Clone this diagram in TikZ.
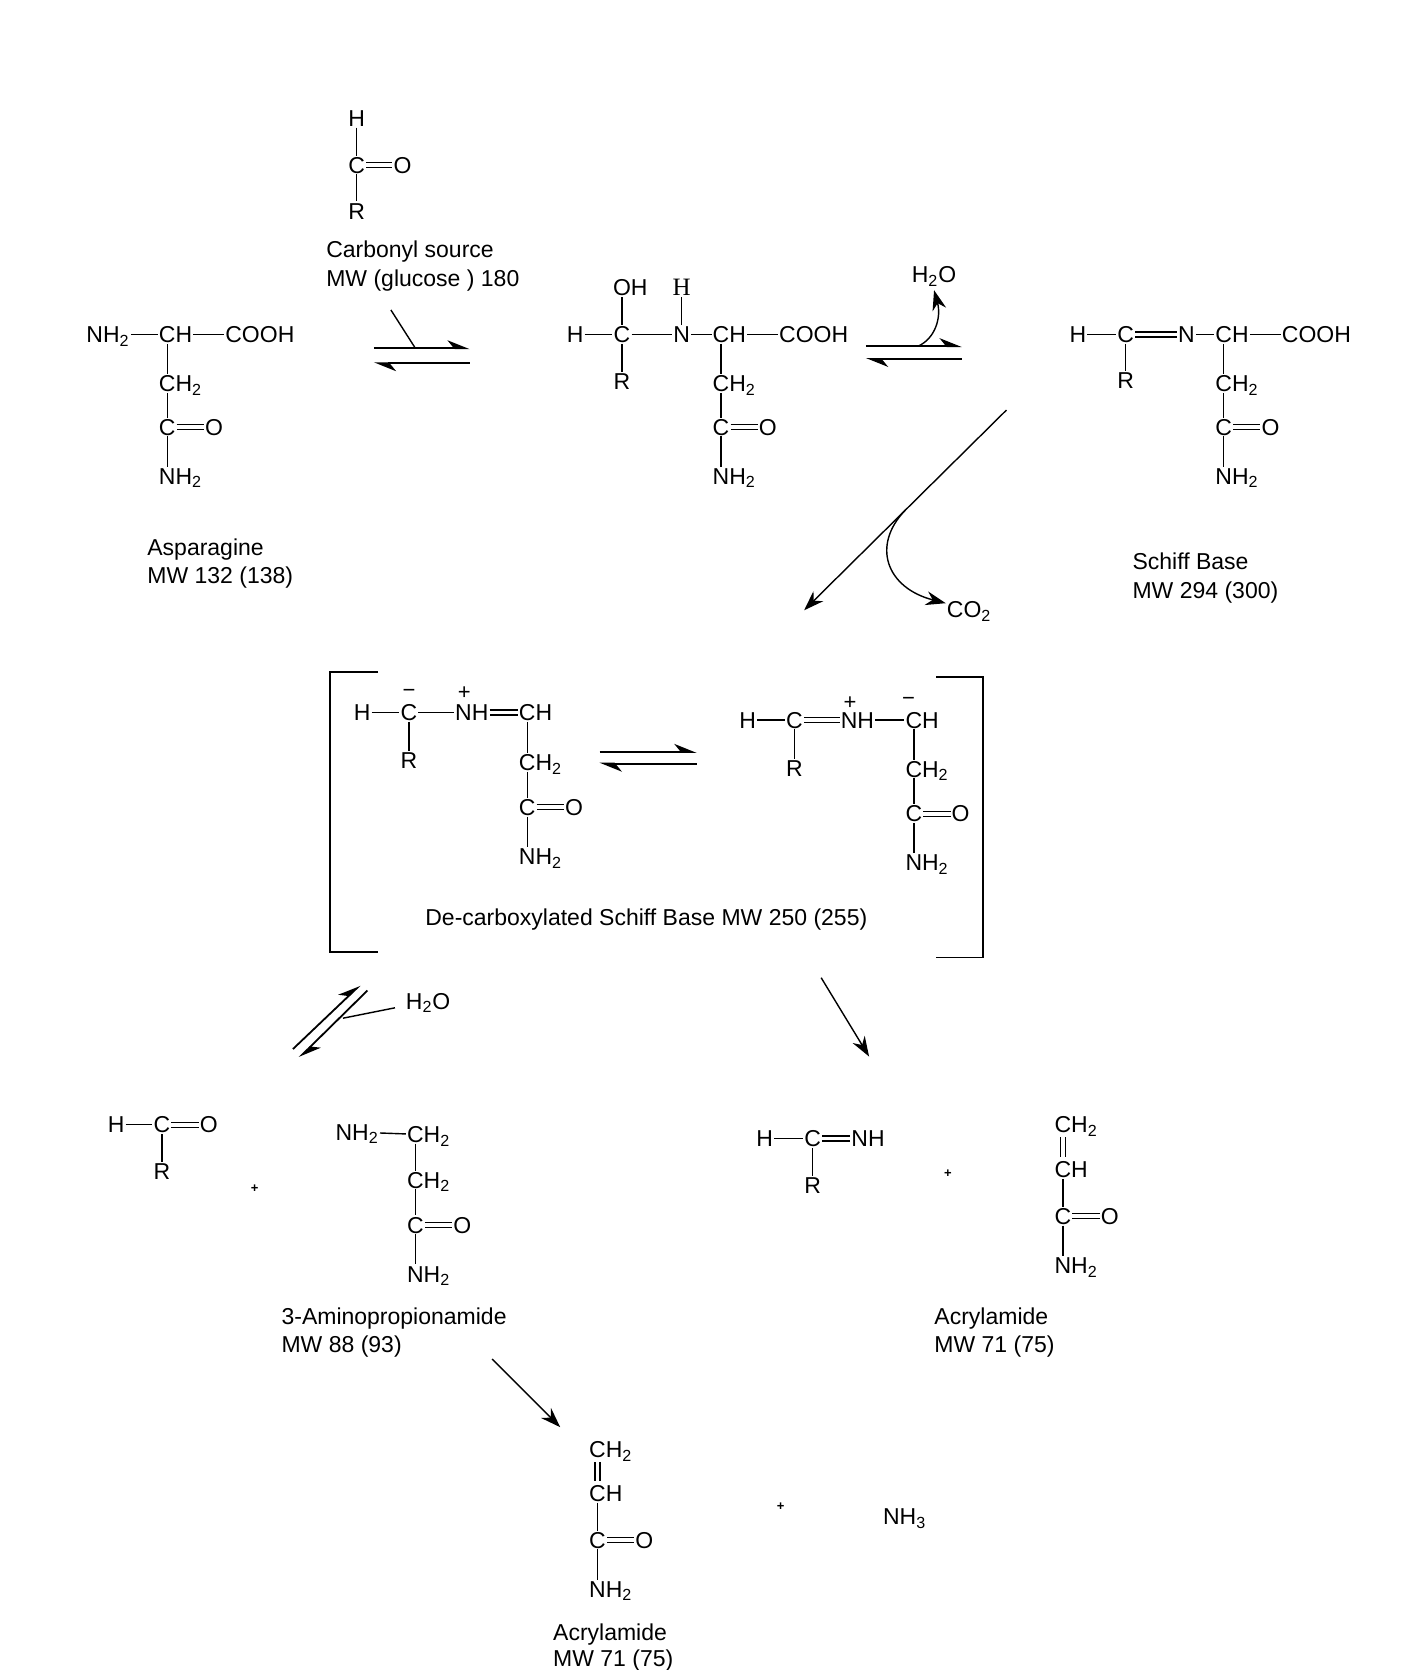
\documentclass[tikz,border=0pt]{standalone}
\usepackage{fontspec}
\setmainfont{Liberation Sans}
\newfontfamily\serifatom{Liberation Serif}
\usetikzlibrary{arrows.meta}
\tikzset{
  atom/.style={font=\fontsize{11.5}{13}\selectfont,text height=8.2pt,text depth=0pt,inner sep=0.4pt},
  caption/.style={font=\fontsize{11.5}{13}\selectfont,text height=8.2pt,text depth=0pt,inner sep=0pt,anchor=west},
  charge/.style={font=\fontsize{11}{12}\selectfont,inner sep=0pt},
  plus/.style={font=\fontsize{6.5}{7}\bfseries\selectfont,inner sep=0pt},
  bond/.style={line width=0.7pt},
  dbond/.style={line width=0.6pt,double,double distance=1.9pt},
  arrow/.style={line width=0.7pt,-{Stealth[length=10pt,width=7pt]}},
  half/.style={line width=0.9pt,-{Stealth[left,length=10pt,width=8pt]}}
}
% chain end C(=O)NH2 hanging below node #4
\newcommand{\amide}[4]{
  \node[atom] (#1c) at (#2,#3) {C};
  \node[atom] (#1o) at (#2+44,#3) {O};
  \node[atom] (#1n) at (#2,#3+46) {N\rlap{H\textsubscript{2}}};
  \draw[dbond] (#1c) -- (#1o);
  \draw[bond] (#1c) -- (#1n);
  \draw[bond] (#4) -- (#1c);
}
% forward and back half arrows
\newcommand{\equil}[5]{
  \coordinate (#1a) at (#2,#4);
  \coordinate (#1b) at (#3,#4);
  \coordinate (#1c) at (#3,#5);
  \coordinate (#1d) at (#2,#5);
  \draw[half] (#1a) -- (#1b);
  \draw[half] (#1c) -- (#1d);
}
\begin{document}
\begin{tikzpicture}[x=0.5325pt,y=-0.5325pt]
\useasboundingbox (0,0) rectangle (1315.4,1568);

% carbonyl source
\node[atom] (srch) at (335,111) {H};
\node[atom] (srcc) at (335,155) {C};
\node[atom] (srco) at (378,155) {O};
\node[atom] (srcr) at (335,198) {R};
\draw[bond] (srch) -- (srcc);
\draw[bond] (srcc) -- (srcr);
\draw[dbond] (srcc) -- (srco);
\node[caption] (srcname) at (306,234) {Carbonyl source};
\node[caption] (srcmw) at (306,261) {MW (glucose ) 180};

% asparagine
\node[atom,anchor=west] (asnh) at (80,314) {NH\textsubscript{2}};
\node[atom] (asch) at (157,314) {C\rlap{H}};
\node[atom] (ascooh) at (244,314) {COOH};
\node[atom] (asb) at (157,360) {C\rlap{H\textsubscript{2}}};
\draw[bond] (asnh) -- (asch);
\draw[bond] ([xshift=8.3pt]asch.east) -- (ascooh);
\draw[bond] (asch) -- (asb);
\amide{as}{157}{401}{asb}
\node[caption] (asname) at (138,514) {Asparagine};
\node[caption] (asmw) at (138,540) {MW 132 (138)};

\equil{ra}{351}{441}{327}{341}
\coordinate (rasrc) at (367,291);
\coordinate (rajoin) at (390,327);
\draw[bond] (rasrc) -- (rajoin);

% addition product
\node[atom] (adh) at (540,314) {H};
\node[atom] (adc) at (584,314) {C};
\node[atom] (adoh) at (584,270) {O\rlap{H}};
\node[atom] (adr) at (584,358) {R};
\node[atom] (adn) at (640,314) {N};
\node[atom,font=\fontsize{12.5}{14}\serifatom] (adnh) at (640,270) {H};
\node[atom] (adch) at (677,314) {C\rlap{H}};
\node[atom] (adcooh) at (764,314) {COOH};
\node[atom] (adb) at (677,360) {C\rlap{H\textsubscript{2}}};
\draw[bond] (adh) -- (adc);
\draw[bond] (adc) -- (adoh);
\draw[bond] (adc) -- (adr);
\draw[bond] (adc) -- (adn);
\draw[bond] (adn) -- (adnh);
\draw[bond] (adn) -- (adch);
\draw[bond] ([xshift=8.3pt]adch.east) -- (adcooh);
\draw[bond] (adch) -- (adb);
\amide{ad}{677}{401}{adb}

\equil{rb}{813}{903}{325}{337}
\node[atom] (rbwater) at (877,258) {H\textsubscript{2}O};
\coordinate (rbjoin) at (862,325);
\draw[arrow] (rbjoin) .. controls (878,318) and (884,298) .. ([yshift=-3pt]rbwater.south);

% schiff base
\node[atom] (sbh) at (1012,314) {H};
\node[atom] (sbc) at (1057,314) {C};
\node[atom] (sbr) at (1057,357) {R};
\node[atom] (sbn) at (1114,314) {N};
\node[atom] (sbch) at (1149,314) {C\rlap{H}};
\node[atom] (sbcooh) at (1236,314) {COOH};
\node[atom] (sbb) at (1149,360) {C\rlap{H\textsubscript{2}}};
\draw[bond] (sbh) -- (sbc);
\draw[bond] (sbc) -- (sbr);
\draw[dbond] (sbc) -- (sbn);
\draw[bond] (sbn) -- (sbch);
\draw[bond] ([xshift=8.3pt]sbch.east) -- (sbcooh);
\draw[bond] (sbch) -- (sbb);
\amide{sb}{1149}{401}{sbb}
\node[caption] (sbname) at (1063,527) {Schiff Base};
\node[caption] (sbmw) at (1063,554) {MW 294 (300)};

% decarboxylation
\coordinate (rcstart) at (945,385);
\coordinate (rcend) at (755,573);
\coordinate (rcjoin) at (850,479);
\draw[arrow] (rcstart) -- (rcend);
\node[atom,anchor=west] (rcco) at (888,572) {CO\textsubscript{2}};
\draw[arrow] (rcjoin) .. controls (818,512) and (832,552) .. (rcco);

% brackets
\coordinate (bla) at (355,631);
\coordinate (blb) at (310,631);
\coordinate (blc) at (310,894);
\coordinate (bld) at (355,894);
\coordinate (bra) at (879,636);
\coordinate (brb) at (923,636);
\coordinate (brc) at (923,899);
\coordinate (brd) at (879,899);
\draw[line width=0.9pt] (bla) -- (blb) -- (blc) -- (bld);
\draw[line width=0.9pt] (bra) -- (brb) -- (brc) -- (brd);

% de-carboxylated schiff base, left form
\node[atom] (dah) at (340,669) {H};
\node[atom] (dac) at (384,669) {C};
\node[atom] (dar) at (384,714) {R};
\node[atom] (danh) at (443,669) {NH};
\node[atom] (dach) at (495,669) {C\rlap{H}};
\node[atom] (dab) at (495,716) {C\rlap{H\textsubscript{2}}};
\node[charge] (daminus) at (384,651) {−};
\node[charge] (daplus) at (436,651) {+};
\draw[bond] (dah) -- (dac);
\draw[bond] (dac) -- (dar);
\draw[bond] (dac) -- (danh);
\draw[dbond] (danh) -- (dach);
\draw[bond] (dach) -- (dab);
\amide{da}{495}{758}{dab}

\equil{rd}{563}{654}{706}{717}

% de-carboxylated schiff base, right form
\node[atom] (dbh) at (702,676) {H};
\node[atom] (dbc) at (746,676) {C};
\node[atom] (dbr) at (746,721) {R};
\node[atom] (dbnh) at (805,676) {NH};
\node[atom] (dbch) at (858,676) {C\rlap{H}};
\node[atom] (dbb) at (858,722) {C\rlap{H\textsubscript{2}}};
\node[charge] (dbplus) at (798,660) {+};
\node[charge] (dbminus) at (853,659) {−};
\draw[bond] (dbh) -- (dbc);
\draw[bond] (dbc) -- (dbr);
\draw[dbond] (dbc) -- (dbnh);
\draw[bond] (dbnh) -- (dbch);
\draw[bond] (dbch) -- (dbb);
\amide{db}{858}{764}{dbb}
\node[caption] (dbname) at (399,861) {De-carboxylated Schiff Base MW 250 (255)};

% hydrolysis
\coordinate (rea) at (275,985);
\coordinate (reb) at (338,925);
\coordinate (rec) at (345,930);
\coordinate (red) at (281,993);
\coordinate (rejoin) at (322,956);
\draw[half] (rea) -- (reb);
\draw[half] (rec) -- (red);
\node[atom,anchor=west] (rewater) at (380,940) {H\textsubscript{2}O};
\draw[bond,shorten <=5pt] (rewater) -- (rejoin);

\node[atom] (fah) at (109,1056) {H};
\node[atom] (fac) at (152,1056) {C};
\node[atom] (fao) at (196,1056) {O};
\node[atom] (far) at (152,1100) {R};
\draw[bond] (fah) -- (fac);
\draw[dbond] (fac) -- (fao);
\draw[bond] (fac) -- (far);
\node[plus] (faplus) at (239,1116) {+};

\node[atom,anchor=west] (apn) at (314,1063) {NH\textsubscript{2}};
\node[atom] (apa) at (390,1065) {C\rlap{H\textsubscript{2}}};
\node[atom] (apb) at (390,1108) {C\rlap{H\textsubscript{2}}};
\draw[bond] (apn) -- (apa);
\draw[bond] (apa) -- (apb);
\amide{ap}{390}{1150}{apb}
\node[caption] (apname) at (264,1236) {3-Aminopropionamide};
\node[caption] (apmw) at (264,1262) {MW 88 (93)};

% elimination on the right
\coordinate (rfa) at (771,918);
\coordinate (rfb) at (816,992);
\draw[arrow] (rfa) -- (rfb);

\node[atom] (imh) at (718,1069) {H};
\node[atom] (imc) at (763,1069) {C};
\node[atom] (imn) at (815,1069) {NH};
\node[atom] (imr) at (763,1113) {R};
\draw[bond] (imh) -- (imc);
\draw[dbond] (imc) -- (imn);
\draw[bond] (imc) -- (imr);
\node[plus] (implus) at (890,1102) {+};

\node[atom] (ala) at (998,1056) {C\rlap{H\textsubscript{2}}};
\node[atom] (alb) at (998,1098) {C\rlap{H}};
\draw[dbond,shorten <=1.5pt,shorten >=1.5pt] (ala) -- (alb);
\amide{al}{998}{1142}{alb}
\node[caption] (alname) at (877,1236) {Acrylamide};
\node[caption] (almw) at (877,1262) {MW 71 (75)};

% deamination
\coordinate (rga) at (462,1276);
\coordinate (rgb) at (526,1340);
\draw[arrow] (rga) -- (rgb);

\node[atom] (bma) at (561,1361) {C\rlap{H\textsubscript{2}}};
\node[atom] (bmb) at (561,1402) {C\rlap{H}};
\draw[dbond,shorten <=1.5pt,shorten >=1.5pt] (bma) -- (bmb);
\amide{bm}{561}{1446}{bmb}
\node[plus] (bmplus) at (733,1415) {+};
\node[atom,anchor=west] (bmammonia) at (828,1424) {NH\textsubscript{3}};
\node[caption] (bmname) at (519,1533) {Acrylamide};
\node[caption] (bmmw) at (519,1557) {MW 71 (75)};
\end{tikzpicture}
\end{document}
